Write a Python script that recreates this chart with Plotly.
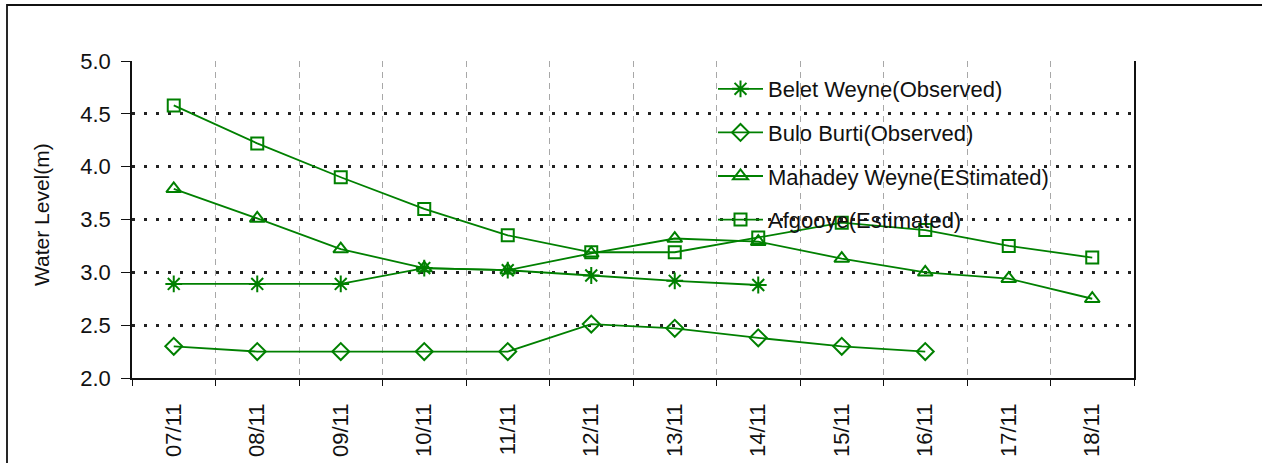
import plotly.graph_objects as go

dates = ["07/11", "08/11", "09/11", "10/11", "11/11", "12/11",
         "13/11", "14/11", "15/11", "16/11", "17/11", "18/11"]

belet_weyne = [2.89, 2.89, 2.89, 3.04, 3.02, 2.97, 2.92, 2.88, None, None, None, None]
bulo_burti = [2.30, 2.25, 2.25, 2.25, 2.25, 2.51, 2.47, 2.38, 2.30, 2.25, None, None]
mahadey_weyne = [3.79, 3.51, 3.22, 3.04, 3.02, 3.18, 3.32, 3.29, 3.13, 3.00, 2.94, 2.75]
afgooye = [4.58, 4.22, 3.90, 3.60, 3.35, 3.19, 3.19, 3.33, 3.47, 3.40, 3.25, 3.14]

series_names = ["Belet Weyne(Observed)", "Bulo Burti(Observed)",
                "Mahadey Weyne(EStimated)", "Afgooye(Estimated)"]
series_values = [belet_weyne, bulo_burti, mahadey_weyne, afgooye]
series_symbols = ["asterisk-open", "diamond-open", "triangle-up-open", "square-open"]
series_sizes = [14, 13, 13, 12]

GREEN = "#008000"
FONT = "Liberation Sans, Arial, sans-serif"

fig = go.Figure()
for i, (name, vals, sym, sz) in enumerate(zip(series_names, series_values,
                                               series_symbols, series_sizes)):
    fig.add_trace(go.Scatter(
        x=dates, y=vals, name=name, mode="lines+markers",
        legendgroup=f"g{i}",
        line=dict(color=GREEN, width=1.8),
        marker=dict(symbol=sym, size=sz, color=GREEN,
                    line=dict(color=GREEN, width=2)),
        connectgaps=False,
    ))

L, R, T, B = 132, 128, 61, 85
W, H = 1262, 463
pw, ph = W - L - R, H - T - B

def px_x(p):
    return (p - L) / pw

def px_y(p):
    return (H - B - p) / ph

fig.update_layout(
    width=W, height=H,
    margin=dict(l=L, r=R, t=T, b=B, autoexpand=False),
    paper_bgcolor="white", plot_bgcolor="white",
    font=dict(family=FONT, color="#111"),
    showlegend=True,
    legend=dict(
        x=px_x(713), y=px_y(68), xanchor="left", yanchor="top",
        bgcolor="rgba(0,0,0,0)", borderwidth=0,
        font=dict(size=22, family=FONT, color="#111"),
        traceorder="grouped", tracegroupgap=12, itemwidth=45,
    ),
    xaxis=dict(
        type="category", tickson="boundaries",
        showgrid=True, gridcolor="#a8a8a8", gridwidth=1, griddash="6px,5px",
        showline=True, linecolor="#111", linewidth=1.5,
        ticks="outside", ticklen=6, tickcolor="#111", tickwidth=1.2,
        tickangle=-90, tickfont=dict(size=22, family=FONT, color="#111"),
        ticklabelstandoff=15,
        automargin=False, zeroline=False,
        range=[-0.5, 11.5],
    ),
    yaxis=dict(
        range=[2.0, 5.0], tickvals=[2.0, 2.5, 3.0, 3.5, 4.0, 4.5, 5.0],
        ticktext=["2.0", "2.5", "3.0", "3.5", "4.0", "4.5", "5.0"],
        showgrid=True, gridcolor="#222", gridwidth=3, griddash="3px,9px",
        showline=True, linecolor="#111", linewidth=1.5, mirror=True,
        ticks="outside", ticklen=9, tickcolor="#111", tickwidth=1.2,
        tickfont=dict(size=22, family=FONT, color="#111"),
        ticklabelstandoff=6,
        automargin=False, zeroline=False,
    ),
    shapes=[
        # white area behind legend hiding gridlines
        dict(type="rect", xref="paper", yref="paper",
             x0=px_x(698), x1=px_x(1108), y0=px_y(244), y1=px_y(64),
             fillcolor="white", line=dict(width=0), layer="between"),
        # outer chart frame
        dict(type="rect", xref="paper", yref="paper",
             x0=px_x(7), x1=px_x(1275), y0=px_y(475), y1=px_y(5),
             fillcolor="rgba(0,0,0,0)", line=dict(color="#111", width=1.8),
             layer="above"),
    ],
    annotations=[
        dict(text="Water Level(m)", textangle=-90, xref="paper", yref="paper",
             x=px_x(41), y=px_y(215), xanchor="center", yanchor="middle",
             showarrow=False, font=dict(size=21, family=FONT, color="#111")),
    ],
)

fig.write_html("out.html",
               config={"displayModeBar": False},
               post_script="document.body.style.margin='0';document.body.style.overflow='hidden';")
